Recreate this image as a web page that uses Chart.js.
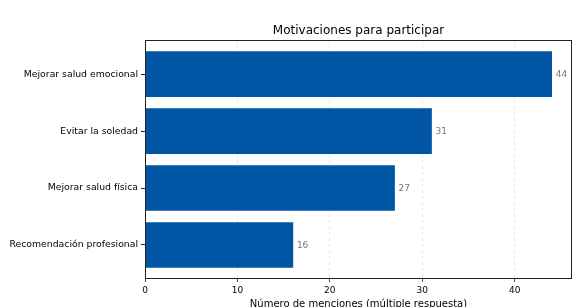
<!DOCTYPE html>
<html>
<head>
<meta charset="utf-8">
<script src="https://cdn.jsdelivr.net/npm/chart.js@4"></script>
<style>
	html, body { margin: 0; padding: 0; background: #fff; }
</style>
</head>
<body>
<canvas id="chart" width="583" height="307"></canvas>
<script>
const categories	= [ "Mejorar salud emocional", "Evitar la soledad", "Mejorar salud física", "Recomendación profesional" ];
const menciones		= [ 44, 31, 27, 16 ];
const xTicks		= [ 0, 10, 20, 30, 40 ];
const TITLE			= "Motivaciones para participar";
const X_TITLE		= "Número de menciones (múltiple respuesta)";

const FONT	= "'DejaVu Sans', sans-serif";

// titles over/under the plot area, border round it and value labels next to bars
const framePlugin = {
	id: "frame",
	afterDraw( chart ) {
		const ctx	= chart.ctx;
		const a		= chart.chartArea;
		const cx	= ( a.left + a.right ) / 2;
		ctx.save();
		ctx.strokeStyle	= "#222";
		ctx.lineWidth	= 1;
		ctx.strokeRect( a.left + 0.5, a.top + 0.5, a.right - a.left - 1, a.bottom - a.top );

		ctx.fillStyle		= "#000";
		ctx.font			= "12px " + FONT;
		ctx.textAlign		= "center";
		ctx.textBaseline	= "middle";
		ctx.fillText( TITLE, cx, 30.5 );

		ctx.font	= "10px " + FONT;
		ctx.fillText( X_TITLE, cx, 304 );

		ctx.fillStyle		= "#777";
		ctx.font			= "9px " + FONT;
		ctx.textAlign		= "left";
		const meta = chart.getDatasetMeta( 0 );
		meta.data.forEach( ( bar, i ) => {
			ctx.fillText( String( menciones[ i ] ), bar.x + 4, bar.y + 0.5 );
		} );
		ctx.restore();
	}
};

const points = menciones.map( ( v, i ) => ( { x: v, y: i } ) );

new Chart( document.getElementById( "chart" ), {
	type: "bar",
	data: {
		datasets: [ {
			data: points,
			backgroundColor: "#0055a4",
			borderWidth: 0,
			barThickness: 45
		} ]
	},
	options: {
		indexAxis: "y",
		responsive: false,
		animation: false,
		layout: { padding: { top: 40, right: 11, left: 0, bottom: 0 } },
		plugins: {
			legend: { display: false },
			tooltip: { enabled: false },
			title: { display: false }
		},
		scales: {
			x: {
				type: "linear",
				min: 0,
				max: 46.2,
				afterBuildTicks: s => { s.ticks = xTicks.map( v => ( { value: v } ) ); },
				afterFit: s => { s.height = 29; },
				grid: {
					color: "rgba(0,0,0,0.12)",
					tickColor: "#222",
					tickLength: 4,
					tickBorderDash: [],
					lineWidth: 0.8
				},
				border: { display: false, dash: [ 3, 3 ] },
				ticks: {
					color: "#000",
					padding: 3,
					font: { family: FONT, size: 9 }
				},
				title: { display: false }
			},
			y: {
				type: "linear",
				reverse: true,
				offset: false,
				min: -0.6,
				max: 3.58,
				afterBuildTicks: s => { s.ticks = categories.map( ( c, i ) => ( { value: i } ) ); },
				afterFit: s => { s.width = 145; },
				grid: {
					offset: false,
					drawOnChartArea: false,
					tickColor: "#222",
					tickLength: 4
				},
				border: { display: false },
				ticks: {
					color: "#000",
					padding: 3,
					font: { family: FONT, size: 9.3 },
					callback: v => categories[ v ] ?? ""
				}
			}
		}
	},
	plugins: [ framePlugin ]
} );
</script>
</body>
</html>
